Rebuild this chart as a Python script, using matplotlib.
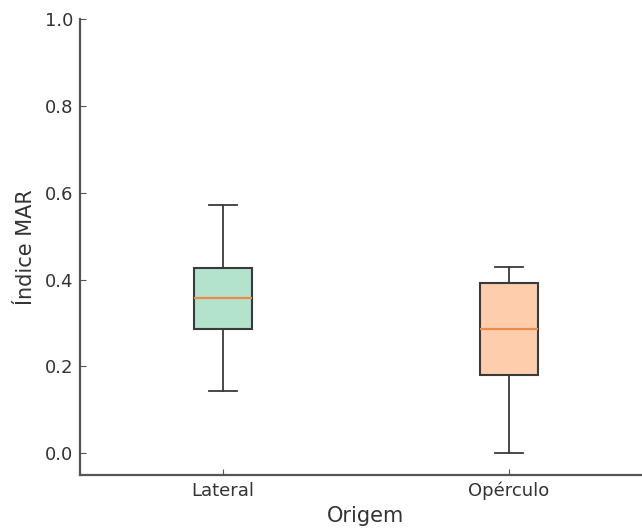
import matplotlib.pyplot as plt

# valeurs
categories = ['Lateral', 'Opérculo']
q1 = [0.286, 0.18]
medians = [0.357, 0.286]
q3 = [0.427, 0.392]
whis_low = [0.143, 0.0]
whis_high = [0.571, 0.428]
colors = ['#b3e2cd', '#fdcdac']

stats = []
for i in range(len(categories)):
    stats.append({'label': categories[i], 'q1': q1[i], 'med': medians[i], 'q3': q3[i],
                  'whislo': whis_low[i], 'whishi': whis_high[i], 'fliers': []})

fig = plt.figure(figsize=(6.42, 5.3), dpi=100)
ax = fig.add_axes([80/642, 1 - 475/530, 572/642, (475 - 19)/530])

edge = '#3a3a3a'
bp = ax.bxp(stats, positions=[0, 1], widths=0.2, patch_artist=True, showfliers=False,
            boxprops=dict(edgecolor=edge, linewidth=1.5),
            whiskerprops=dict(color=edge, linewidth=1.3),
            capprops=dict(color=edge, linewidth=1.3),
            medianprops=dict(color='#ee8a4a', linewidth=1.6))
for patch, c in zip(bp['boxes'], colors):
    patch.set_facecolor(c)

ax.set_xlim(-0.5, 1.5)
ax.set_ylim(-0.05, 1.0)
ax.set_yticks([0.0, 0.2, 0.4, 0.6, 0.8, 1.0])
ax.set_xticks([0, 1])
ax.set_xticklabels(categories)

for s in ['top', 'right']:
    ax.spines[s].set_visible(False)
for s in ['left', 'bottom']:
    ax.spines[s].set_color('#555555')
    ax.spines[s].set_linewidth(1.6)
ax.tick_params(direction='in', length=4, color='#555555', labelsize=13, labelcolor='#333333', pad=5)

ax.set_xlabel('Origem', fontsize=15, color='#333333', labelpad=4)
ax.set_ylabel('Índice MAR', fontsize=15, color='#333333', labelpad=6)

plt.savefig('out.png', dpi=100)
